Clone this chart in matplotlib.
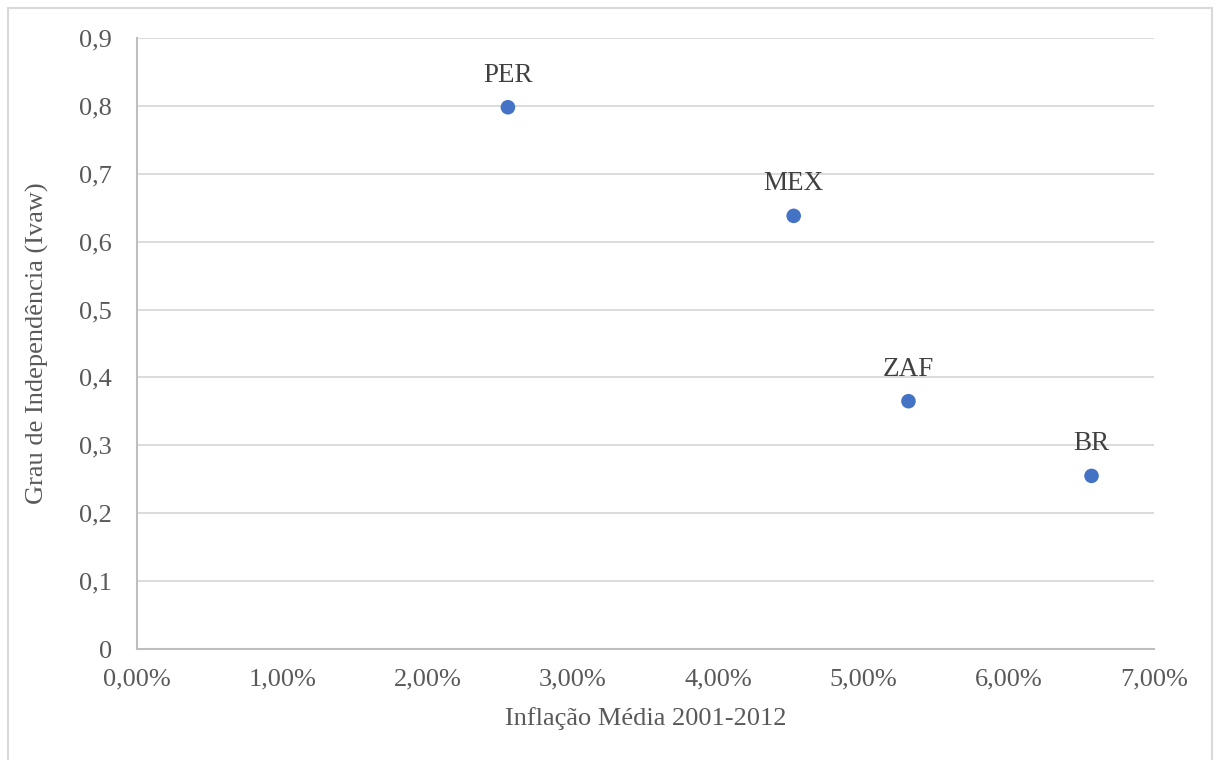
import matplotlib
matplotlib.use("Agg")
import matplotlib.pyplot as plt
from matplotlib.patches import Rectangle
from matplotlib.ticker import FuncFormatter

# Average inflation (%) vs. central bank independence index
countries = ["PER", "MEX", "ZAF", "BR"]
inflation = [2.553, 4.52, 5.31, 6.57]
independence = [0.798, 0.638, 0.365, 0.255]

x_ticks = [0, 1, 2, 3, 4, 5, 6, 7]
y_ticks = [0, 0.1, 0.2, 0.3, 0.4, 0.5, 0.6, 0.7, 0.8, 0.9]

plt.rcParams["font.family"] = ["Liberation Serif", "DejaVu Serif"]

W, H = 1216, 760
fig = plt.figure(figsize=(W / 100, H / 100), dpi=100)
ax = fig.add_axes([137 / W, 1 - 649 / H, (1154 - 137) / W, (649 - 38) / H])

# outer chart border
fig.patches.append(Rectangle((8 / W, -0.05), (1212 - 8) / W, 1.05 - 8 / H,
                             transform=fig.transFigure, fill=False,
                             edgecolor="#d9d9d9", linewidth=1.5))

ax.scatter(inflation, independence, s=110, color="#4472C4", zorder=3,
           edgecolors="none")
for c, x, y in zip(countries, inflation, independence):
    ax.annotate(c, (x, y), xytext=(0, 14), textcoords="offset points",
                ha="center", va="bottom", fontsize=19.5, color="#404040")

ax.set_xlim(0, 7)
ax.set_ylim(0, 0.9)
ax.set_xticks(x_ticks)
ax.set_yticks(y_ticks)
ax.xaxis.set_major_formatter(FuncFormatter(lambda v, p: f"{v:.2f}%".replace(".", ",")))
ax.yaxis.set_major_formatter(FuncFormatter(
    lambda v, p: "0" if abs(v) < 1e-9 else f"{v:.1f}".replace(".", ",")))

ax.grid(axis="y", color="#d9d9d9", linewidth=1.3)
ax.set_axisbelow(True)
for s in ["top", "right"]:
    ax.spines[s].set_visible(False)
for s in ["left", "bottom"]:
    ax.spines[s].set_color("#bfbfbf")
    ax.spines[s].set_linewidth(1.5)
ax.tick_params(length=0, labelsize=19, colors="#595959", pad=14)
ax.tick_params(axis="y", pad=18)

ax.set_xlabel("Inflação Média 2001-2012", fontsize=19, color="#595959", labelpad=12)
ax.set_ylabel("Grau de Independência (Ivaw)", fontsize=19, color="#595959", labelpad=22)

fig.savefig("out.png", dpi=100)
